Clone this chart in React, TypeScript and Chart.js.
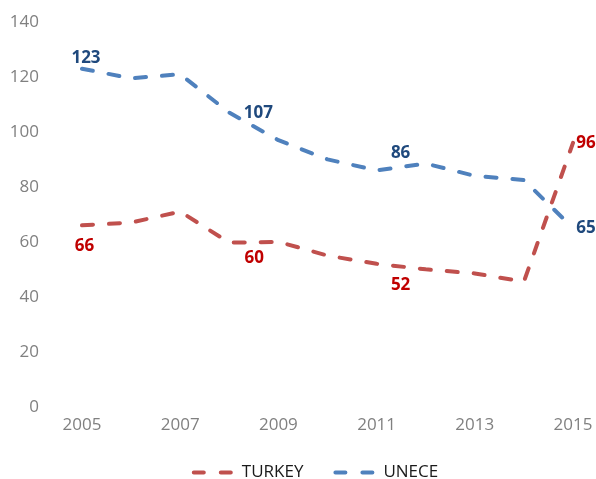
import React, { useEffect, useRef } from 'react';
import { Chart, registerables } from 'chart.js';

Chart.register(...registerables);

const years = ['2005', '2006', '2007', '2008', '2009', '2010', '2011', '2012', '2013', '2014', '2015'];
const turkey = [66, 67, 71, 59.7, 60, 55, 52, 50, 48.5, 45.5, 96];
const unece = [123, 119.5, 121, 107, 97, 90, 86, 88.5, 84, 82.5, 65];
const yMin = 0;
const yMax = 140;
const yStep = 20;
const labelledIdx = [0, 3, 6, 10];

// label placement (offsets in px from the point)
const turkeyLabelOffsets = [[2.5, 21], [25, 16], [24, 21], [13, 0]];
const uneceLabelOffsets = [[4, -11], [29, 0], [24, -17], [13, 0]];

const FONT = '"Open Sans", "Noto Sans", sans-serif';
const TURKEY_LINE = '#C0504D';
const UNECE_LINE = '#4F81BD';
const TURKEY_TEXT = '#C00000';
const UNECE_TEXT = '#1F497D';
const DASH = [11, 16];

const dataLabelPlugin = {
  id: 'dataLabels',
  afterDatasetsDraw(chart: any) {
    const ctx = chart.ctx;
    ctx.save();
    ctx.font = `bold 17px ${FONT}`;
    ctx.textAlign = 'center';
    ctx.textBaseline = 'middle';
    chart.data.datasets.forEach((ds: any, di: number) => {
      const meta = chart.getDatasetMeta(di);
      const offsets = di === 0 ? turkeyLabelOffsets : uneceLabelOffsets;
      ctx.fillStyle = di === 0 ? TURKEY_TEXT : UNECE_TEXT;
      labelledIdx.forEach((idx, k) => {
        const pt = meta.data[idx];
        const [dx, dy] = offsets[k];
        ctx.fillText(String(Math.round(ds.data[idx])), pt.x + dx, pt.y + dy);
      });
    });
    ctx.restore();
  },
};

const legendPlugin = {
  id: 'customLegend',
  afterDraw(chart: any) {
    const ctx = chart.ctx;
    ctx.save();
    ctx.font = `17px ${FONT}`;
    const lineW = 37;
    const gap = 11;
    const itemGap = 32;
    const centerX = 316;
    const y = 472.5;
    const items = chart.data.datasets.map((ds: any) => ({
      text: ds.label,
      color: ds.borderColor,
      w: lineW + gap + ctx.measureText(ds.label).width,
    }));
    const total = items.reduce((s: number, it: any) => s + it.w, 0) + itemGap * (items.length - 1);
    let x = centerX - total / 2;
    items.forEach((it: any) => {
      ctx.beginPath();
      ctx.setLineDash([10, 17]);
      ctx.lineCap = 'round';
      ctx.lineWidth = 4;
      ctx.strokeStyle = it.color;
      ctx.moveTo(x, y);
      ctx.lineTo(x + lineW, y);
      ctx.stroke();
      ctx.setLineDash([]);
      ctx.fillStyle = '#1a1a1a';
      ctx.textAlign = 'left';
      ctx.textBaseline = 'middle';
      ctx.fillText(it.text, x + lineW + gap, y);
      x += it.w + itemGap;
    });
    ctx.restore();
  },
};

export default function App() {
  const ref = useRef<HTMLCanvasElement>(null);
  useEffect(() => {
    if (!ref.current) return;
    const chart = new Chart(ref.current, {
      type: 'line',
      data: {
        labels: years,
        datasets: [
          {
            label: 'TURKEY',
            data: turkey,
            borderColor: TURKEY_LINE,
            backgroundColor: TURKEY_LINE,
            borderWidth: 4,
            borderDash: DASH,
            borderCapStyle: 'round',
            borderJoinStyle: 'round',
            pointRadius: 0,
            tension: 0,
            fill: false,
          },
          {
            label: 'UNECE',
            data: unece,
            borderColor: UNECE_LINE,
            backgroundColor: UNECE_LINE,
            borderWidth: 4,
            borderDash: DASH,
            borderCapStyle: 'round',
            borderJoinStyle: 'round',
            pointRadius: 0,
            tension: 0,
            fill: false,
          },
        ],
      },
      options: {
        animation: false,
        responsive: false,
        maintainAspectRatio: false,
        layout: { padding: { top: 22, right: 23, left: 0, bottom: 0 } },
        scales: {
          x: {
            type: 'category',
            offset: false,
            grid: { display: false },
            border: { display: false },
            ticks: {
              autoSkip: false,
              maxRotation: 0,
              padding: 0,
              color: '#808080',
              font: { family: FONT, size: 17 },
              callback: (_v: any, i: number) => (i % 2 === 0 ? years[i] : ''),
            },
            afterFit: (s: any) => {
              s.height = 72.3;
              s.paddingLeft = 0;
              s.paddingRight = 0;
            },
          },
          y: {
            min: yMin,
            max: yMax,
            grid: { display: false },
            border: { display: false },
            ticks: {
              stepSize: yStep,
              padding: 35,
              color: '#808080',
              font: { family: FONT, size: 17 },
            },
            afterFit: (s: any) => {
              s.width = 82;
              s.paddingTop = 0;
              s.paddingBottom = 0;
            },
          },
        },
        plugins: {
          legend: { display: false },
          tooltip: { enabled: false },
        },
      },
      plugins: [dataLabelPlugin, legendPlugin],
    } as any);
    return () => chart.destroy();
  }, []);
  return (
    <div style={{ position: 'absolute', left: 0, top: 0, width: 596, height: 479, background: '#fff' }}>
      <canvas ref={ref} width={596} height={479} style={{ display: 'block' }} />
    </div>
  );
}
